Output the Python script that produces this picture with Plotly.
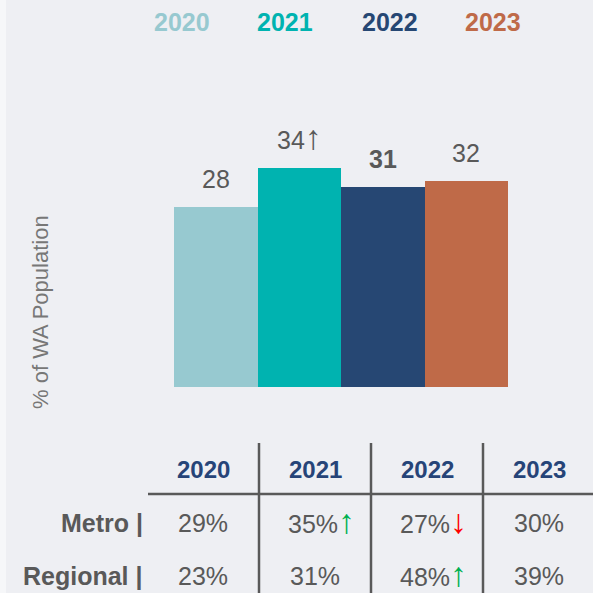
import plotly.graph_objects as go

years = ["2020", "2021", "2022", "2023"]
values = [28, 34, 31, 32]
bar_labels = ["28", "34<span style='font-size:34px'>↑</span>", "<b>31</b>", "32"]
bar_colors = ["#97C9D0", "#00B3B0", "#264773", "#BF6A48"]

row_names = ["Metro |", "Regional |"]
metro = ["29%", "35%", "27%", "30%"]
metro_arrows = ["", "up", "down", ""]
regional = ["23%", "31%", "48%", "39%"]
regional_arrows = ["", "", "up", ""]

W, H = 593, 593
L, R, T, B = 174, 508, 65, 387  # plot area pixel box
Y_MAX = 50

def px(x):
    return (x - L) / (R - L)

def py(y):
    return (B - y) / (B - T)

FONT = "Arial, Liberation Sans, sans-serif"
GRAY = "#595959"
NAVY = "#264478"

fig = go.Figure()
fig.add_trace(go.Bar(x=years, y=values, marker=dict(color=bar_colors, line=dict(width=0)),
                     hoverinfo="skip", showlegend=False))

ann = []
# bar value labels (category index positions on the x axis)
for i, (v, lab) in enumerate(zip(values, bar_labels)):
    ann.append(dict(x=i, y=v, xref="x", yref="y", text=lab, showarrow=False,
                    xanchor="center", yanchor="bottom", yshift=12 if i != 1 else 10,
                    font=dict(size=25, color=GRAY, family=FONT)))

# top legend
legend_x = [182, 285, 390, 493]
for yr, c, lx in zip(years, bar_colors, legend_x):
    ann.append(dict(x=px(lx), y=py(22), xref="paper", yref="paper", text=f"<b>{yr}</b>",
                    showarrow=False, xanchor="center", yanchor="middle",
                    font=dict(size=25, color=c, family=FONT)))

# y axis title
ann.append(dict(x=px(40), y=py(312), xref="paper", yref="paper", text="% of WA Population",
                textangle=-90, showarrow=False, xanchor="center", yanchor="middle",
                font=dict(size=22, color="#777777", family=FONT)))

# table
col_x = [203, 315, 427, 539]
for yr, cx in zip(years, col_x):
    ann.append(dict(x=px(cx), y=py(470), xref="paper", yref="paper", text=f"<b>{yr}</b>",
                    showarrow=False, xanchor="center", yanchor="middle",
                    font=dict(size=24, color=NAVY, family=FONT)))

def arrow_html(kind):
    if kind == "up":
        return "<span style='color:#00B050;font-size:34px'>↑</span>"
    if kind == "down":
        return "<span style='color:#FF0000;font-size:34px'>↓</span>"
    return ""

for row_y, name, vals, arrs in [(523, row_names[0], metro, metro_arrows),
                                 (576, row_names[1], regional, regional_arrows)]:
    ann.append(dict(x=px(145), y=py(row_y), xref="paper", yref="paper", text=f"<b>{name}</b>",
                    showarrow=False, xanchor="right", yanchor="middle",
                    font=dict(size=25, color=GRAY, family=FONT)))
    for v, a, cx in zip(vals, arrs, col_x):
        ann.append(dict(x=px(cx + (6 if a else 0)), y=py(row_y - (2 if a else 0)), xref="paper", yref="paper",
                        text=v + arrow_html(a), showarrow=False, xanchor="center", yanchor="middle",
                        font=dict(size=25, color=GRAY, family=FONT)))

shapes = []
for lx in [259, 371, 483]:
    shapes.append(dict(type="line", xref="paper", yref="paper", x0=px(lx), x1=px(lx),
                       y0=py(443), y1=py(596), line=dict(color=GRAY, width=2.5)))
shapes.append(dict(type="line", xref="paper", yref="paper", x0=px(148), x1=px(596),
                   y0=py(494), y1=py(494), line=dict(color=GRAY, width=2.5)))
shapes.append(dict(type="rect", xref="paper", yref="paper", x0=px(0), x1=px(6),
                   y0=py(0), y1=py(593), fillcolor="#F6F7F9", line=dict(width=0), layer="below"))

hidden_axis = dict(showgrid=False, zeroline=False, showline=False, showticklabels=False,
                   ticks="", fixedrange=True)

fig.update_layout(
    width=W, height=H,
    margin=dict(l=L, r=W - R, t=T, b=H - B, pad=0),
    paper_bgcolor="#EEEFF3", plot_bgcolor="#EEEFF3",
    bargap=0,
    xaxis=dict(type="category", range=[-0.5, 3.5], **hidden_axis),
    yaxis=dict(range=[0, Y_MAX], **hidden_axis),
    annotations=ann, shapes=shapes,
    showlegend=False,
)

fig.write_html("out.html", config={"displayModeBar": False},
               post_script="document.body.style.margin='0';document.body.style.overflow='hidden';")
